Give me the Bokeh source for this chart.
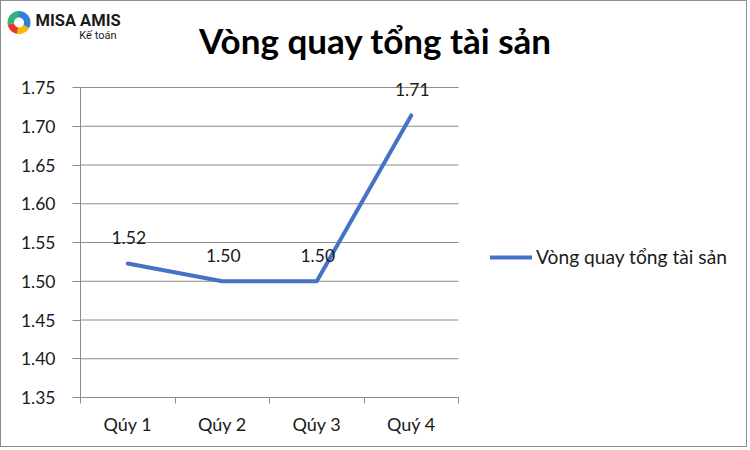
import math
from bokeh.plotting import figure
from bokeh.models import (Range1d, FixedTicker, PrintfTickFormatter, LabelSet, Label,
                          ColumnDataSource, Legend, LegendItem, PolyAnnotation)
from bokeh.core.properties import value
from bokeh.embed import file_html
from bokeh.resources import INLINE

# ---- data ----
quarters = ["Qúy 1", "Qúy 2", "Qúy 3", "Quý 4"]
values = [1.523, 1.500, 1.500, 1.714]
value_labels = ["1.52", "1.50", "1.50", "1.71"]
y_ticks = [1.35, 1.40, 1.45, 1.50, 1.55, 1.60, 1.65, 1.70, 1.75]
series_name = "Vòng quay tổng tài sản"
title_text = "Vòng quay tổng tài sản"

FONT = "Lato"
GRAY = "#8c8c8c"
BLUE = "#4472C4"
TXT = "#1a1a1a"
W, H = 747, 447
# pixel layout of the plotting region (canvas px, from top-left)
PX_L, PX_R, PX_T, PX_B = 79, 457, 86, 396

n = len(quarters)
centers = [i + 0.5 for i in range(n)]
bounds = [float(i) for i in range(n + 1)]
y0, y1 = y_ticks[0], y_ticks[-1]

xs_per_px = n / (PX_R - PX_L)
ys_per_px = (y1 - y0) / (PX_B - PX_T)
x_range = Range1d(-PX_L * xs_per_px, (W - PX_L) * xs_per_px)
y_range = Range1d(y0 - (H - PX_B) * ys_per_px, y0 + PX_B * ys_per_px)


def sy(py):
    """canvas px from top -> screen units (from frame bottom, upward)"""
    return H - py


p = figure(width=W, height=H, output_backend="svg", toolbar_location=None,
           x_range=x_range, y_range=y_range,
           min_border_left=0, min_border_right=0, min_border_top=0, min_border_bottom=0)
p.styles = {"border": "1px solid #8c8c8c"}
p.outline_line_color = None
p.xgrid.grid_line_color = None
p.ygrid.grid_line_color = None

# gridlines + axis lines, limited to the plotting region
p.multi_line(xs=[[bounds[0], bounds[-1]] for _ in y_ticks], ys=[[t, t] for t in y_ticks],
             line_color=GRAY, line_width=1)
p.segment(x0=[bounds[0]], y0=[y0], x1=[bounds[0]], y1=[y1], line_color=GRAY, line_width=1)

src = ColumnDataSource(dict(x=centers, y=values, lab=value_labels))
r = p.line("x", "y", source=src, line_color=BLUE, line_width=4, line_cap="round", line_join="round")

# x axis, fixed at the bottom of the value span
p.xaxis.fixed_location = y0
p.xaxis.ticker = FixedTicker(ticks=centers, minor_ticks=bounds)
p.xaxis.major_label_overrides = {c: q for c, q in zip(centers, quarters)}
p.xaxis.major_tick_line_color = None
p.xaxis.major_tick_out = 0
p.xaxis.major_tick_in = 0
p.xaxis.minor_tick_line_color = GRAY
p.xaxis.minor_tick_out = 6
p.xaxis.minor_tick_in = 0
p.xaxis.axis_line_color = None
p.xaxis.major_label_standoff = 9
p.xaxis.major_label_text_font = FONT
p.xaxis.major_label_text_font_size = "18px"
p.xaxis.major_label_text_color = TXT

# y axis, fixed at the left edge of the category span
p.yaxis.fixed_location = bounds[0]
p.yaxis.ticker = FixedTicker(ticks=y_ticks)
p.yaxis.formatter = PrintfTickFormatter(format="%.2f")
p.yaxis.minor_tick_line_color = None
p.yaxis.major_tick_line_color = GRAY
p.yaxis.major_tick_out = 8
p.yaxis.major_tick_in = 0
p.yaxis.axis_line_color = None
p.yaxis.major_label_standoff = 17
p.yaxis.major_label_text_font = FONT
p.yaxis.major_label_text_font_size = "17.5px"
p.yaxis.major_label_text_color = TXT

# data labels
p.add_layout(LabelSet(x="x", y="y", text="lab", source=src, x_offset=1, y_offset=19,
                      text_align="center", text_baseline="alphabetic",
                      text_font=value(FONT), text_font_size="17.5px", text_color=TXT))

# legend
legend = Legend(items=[LegendItem(label=series_name, renderers=[r])],
                location=(489, sy(257) - 10), padding=0, margin=0, spacing=0,
                border_line_color=None, background_fill_alpha=0,
                glyph_width=42, glyph_height=20, label_standoff=4,
                label_text_font=FONT, label_text_font_size="19.2px", label_text_color=TXT)
p.add_layout(legend, "center")

# title
p.add_layout(Label(x=374, y=sy(38), x_units="screen", y_units="screen", text=title_text,
                   text_align="center", text_baseline="middle", text_font=FONT,
                   text_font_size="35px", text_font_style="bold", text_color="#000000"))

# logo (decoration)
cx, cy, ro, ri = 17.5, sy(21), 11.5, 5
segs = [(90, -30, "#2f7fd8"), (-30, -100, "#f5b800"), (-100, -170, "#e8362d"), (-170, -270, "#2bb673")]
for a0, a1, col in segs:
    angs = [math.radians(a0 + (a1 - a0) * k / 12) for k in range(13)]
    pxs = [cx + ro * math.cos(a) for a in angs] + [cx + ri * math.cos(a) for a in reversed(angs)]
    pys = [cy + ro * math.sin(a) for a in angs] + [cy + ri * math.sin(a) for a in reversed(angs)]
    p.add_layout(PolyAnnotation(xs=pxs, ys=pys, xs_units="screen", ys_units="screen",
                                fill_color=col, fill_alpha=1, line_color=None))
p.add_layout(Label(x=34, y=sy(19), x_units="screen", y_units="screen", text="MISA AMIS",
                   text_align="left", text_baseline="middle", text_font="Roboto",
                   text_font_size="16.5px", text_font_style="bold", text_color=TXT))
p.add_layout(Label(x=115, y=sy(34), x_units="screen", y_units="screen", text="Kế toán",
                   text_align="right", text_baseline="middle", text_font="Roboto",
                   text_font_size="11px", text_color=TXT))

open("out.html", "w").write(file_html(p, INLINE))
